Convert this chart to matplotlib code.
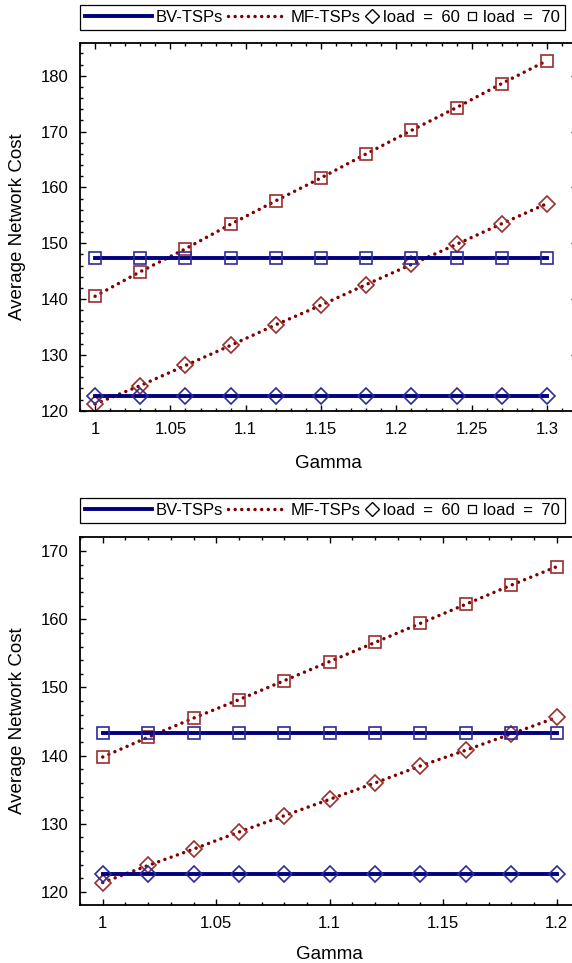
#!/usr/bin/env python3
"""
Average network cost vs. gamma for BV-TSPs and MF-TSPs (two load settings).
"""

import matplotlib
matplotlib.use('Agg')
import matplotlib.pyplot as plt
from matplotlib.lines import Line2D
from matplotlib.legend_handler import HandlerLine2D
from matplotlib.ticker import MultipleLocator, FormatStrFormatter

plt.rcParams['font.family'] = ['Liberation Sans', 'DejaVu Sans']

# Top panel data
gamma_top = [1.0, 1.03, 1.06, 1.09, 1.12, 1.15, 1.18, 1.21, 1.24, 1.27, 1.3]
bv60_top = [122.7, 122.7, 122.7, 122.7, 122.7, 122.7, 122.7, 122.7, 122.7, 122.7, 122.7]
bv70_top = [147.4, 147.4, 147.4, 147.4, 147.4, 147.4, 147.4, 147.4, 147.4, 147.4, 147.4]
mf60_top = [121.2, 124.5, 128.1, 131.7, 135.4, 138.9, 142.6, 146.2, 149.8, 153.5, 157.1]
mf70_top = [140.5, 144.9, 149.0, 153.4, 157.6, 161.7, 166.0, 170.2, 174.3, 178.6, 182.7]

# Bottom panel data
gamma_bot = [1.0, 1.02, 1.04, 1.06, 1.08, 1.1, 1.12, 1.14, 1.16, 1.18, 1.2]
bv60_bot = [122.7, 122.7, 122.7, 122.7, 122.7, 122.7, 122.7, 122.7, 122.7, 122.7, 122.7]
bv70_bot = [143.3, 143.3, 143.3, 143.3, 143.3, 143.3, 143.3, 143.3, 143.3, 143.3, 143.3]
mf60_bot = [121.4, 123.9, 126.3, 128.8, 131.2, 133.6, 136.0, 138.5, 140.8, 143.2, 145.6]
mf70_bot = [139.8, 142.7, 145.5, 148.2, 151.0, 153.8, 156.6, 159.4, 162.2, 165.0, 167.7]

# wide spaces around "=" like the original legend
legend_labels = ['BV-TSPs', 'MF-TSPs', 'load\u2002=\u200260', 'load\u2002=\u200270']

BV_LINE = '#000080'
BV_MARK = '#2b2b9c'
MF_LINE = '#800000'
MF_MARK = '#9a2e2e'
DOTS = (0, (0.01, 1.9))


class FixedWidthHandler(HandlerLine2D):
    """Line handler with its own handle width (points)."""

    def __init__(self, width, **kw):
        super().__init__(**kw)
        self.box_width = width

    def legend_artist(self, legend, orig_handle, fontsize, handlebox):
        handlebox.width = self.box_width
        return super().legend_artist(legend, orig_handle, fontsize, handlebox)


def draw_panel(ax, gamma, bv60, bv70, mf60, mf70, xlim, ylim, xpad):
    common = dict(markersize=9, markeredgewidth=1.2, markerfacecolor='none')
    dcommon = dict(markersize=8.5, markeredgewidth=1.2, markerfacecolor='none')

    ax.plot(gamma, mf70, color=MF_LINE, lw=2.5, linestyle=DOTS,
            dash_capstyle='round', marker='s', markeredgecolor=MF_MARK, **common)
    ax.plot(gamma, mf60, color=MF_LINE, lw=2.5, linestyle=DOTS,
            dash_capstyle='round', marker='D', markeredgecolor=MF_MARK, **dcommon)
    ax.plot(gamma, bv70, color=BV_LINE, lw=2.8, marker='s',
            markeredgecolor=BV_MARK, **common)
    ax.plot(gamma, bv60, color=BV_LINE, lw=2.8, marker='D',
            markeredgecolor=BV_MARK, **dcommon)

    ax.set_xlim(*xlim)
    ax.set_ylim(*ylim)
    ax.xaxis.set_major_locator(MultipleLocator(0.05))
    ax.xaxis.set_minor_locator(MultipleLocator(0.01))
    ax.yaxis.set_major_locator(MultipleLocator(10))
    ax.yaxis.set_minor_locator(MultipleLocator(2))
    ax.xaxis.set_major_formatter(FormatStrFormatter('%g'))
    ax.tick_params(which='both', direction='in', top=True, right=True,
                   width=1.0, labelsize=12)
    ax.tick_params(which='major', length=4.5)
    ax.tick_params(which='minor', length=2.5)
    ax.tick_params(axis='x', pad=8)
    ax.tick_params(axis='y', pad=8)
    for s in ax.spines.values():
        s.set_linewidth(1.3)

    ax.set_xlabel('Gamma', fontsize=13.5, labelpad=xpad)
    ax.set_ylabel('Average Network Cost', fontsize=13.5, labelpad=11)

    h_bv = Line2D([], [], color=BV_LINE, lw=2.8)
    h_mf = Line2D([], [], color=MF_LINE, lw=2.5, linestyle=DOTS,
                  dash_capstyle='round')
    h_d = Line2D([], [], color='black', linestyle='none', marker='D',
                 markersize=7.5, markerfacecolor='none', markeredgewidth=1.0)
    h_s = Line2D([], [], color='black', linestyle='none', marker='s',
                 markersize=5.5, markerfacecolor='none', markeredgewidth=0.9)
    leg = ax.legend([h_bv, h_mf, h_d, h_s], legend_labels, ncol=4,
                    loc='lower left', bbox_to_anchor=(0.0, 1.037),
                    borderaxespad=0, fontsize=12, frameon=True, fancybox=False,
                    framealpha=1, edgecolor='black', borderpad=0.3,
                    handletextpad=0.25, columnspacing=0.28,
                    handler_map={h_bv: FixedWidthHandler(48),
                                 h_mf: FixedWidthHandler(42),
                                 h_d: FixedWidthHandler(10),
                                 h_s: FixedWidthHandler(10)})
    leg.get_frame().set_linewidth(0.9)


fig = plt.figure(figsize=(5.72, 9.63), dpi=100)
ax_top = fig.add_axes([0.1399, 0.5735, 0.869, 0.3815])
ax_bot = fig.add_axes([0.1399, 0.0602, 0.873, 0.3825])

draw_panel(ax_top, gamma_top, bv60_top, bv70_top, mf60_top, mf70_top,
           (0.99, 1.32), (120, 185.8), 13)
draw_panel(ax_bot, gamma_bot, bv60_bot, bv70_bot, mf60_bot, mf70_bot,
           (0.99, 1.21), (118.1, 172.1), 10.5)

fig.savefig('out.png', dpi=100)
plt.close(fig)
